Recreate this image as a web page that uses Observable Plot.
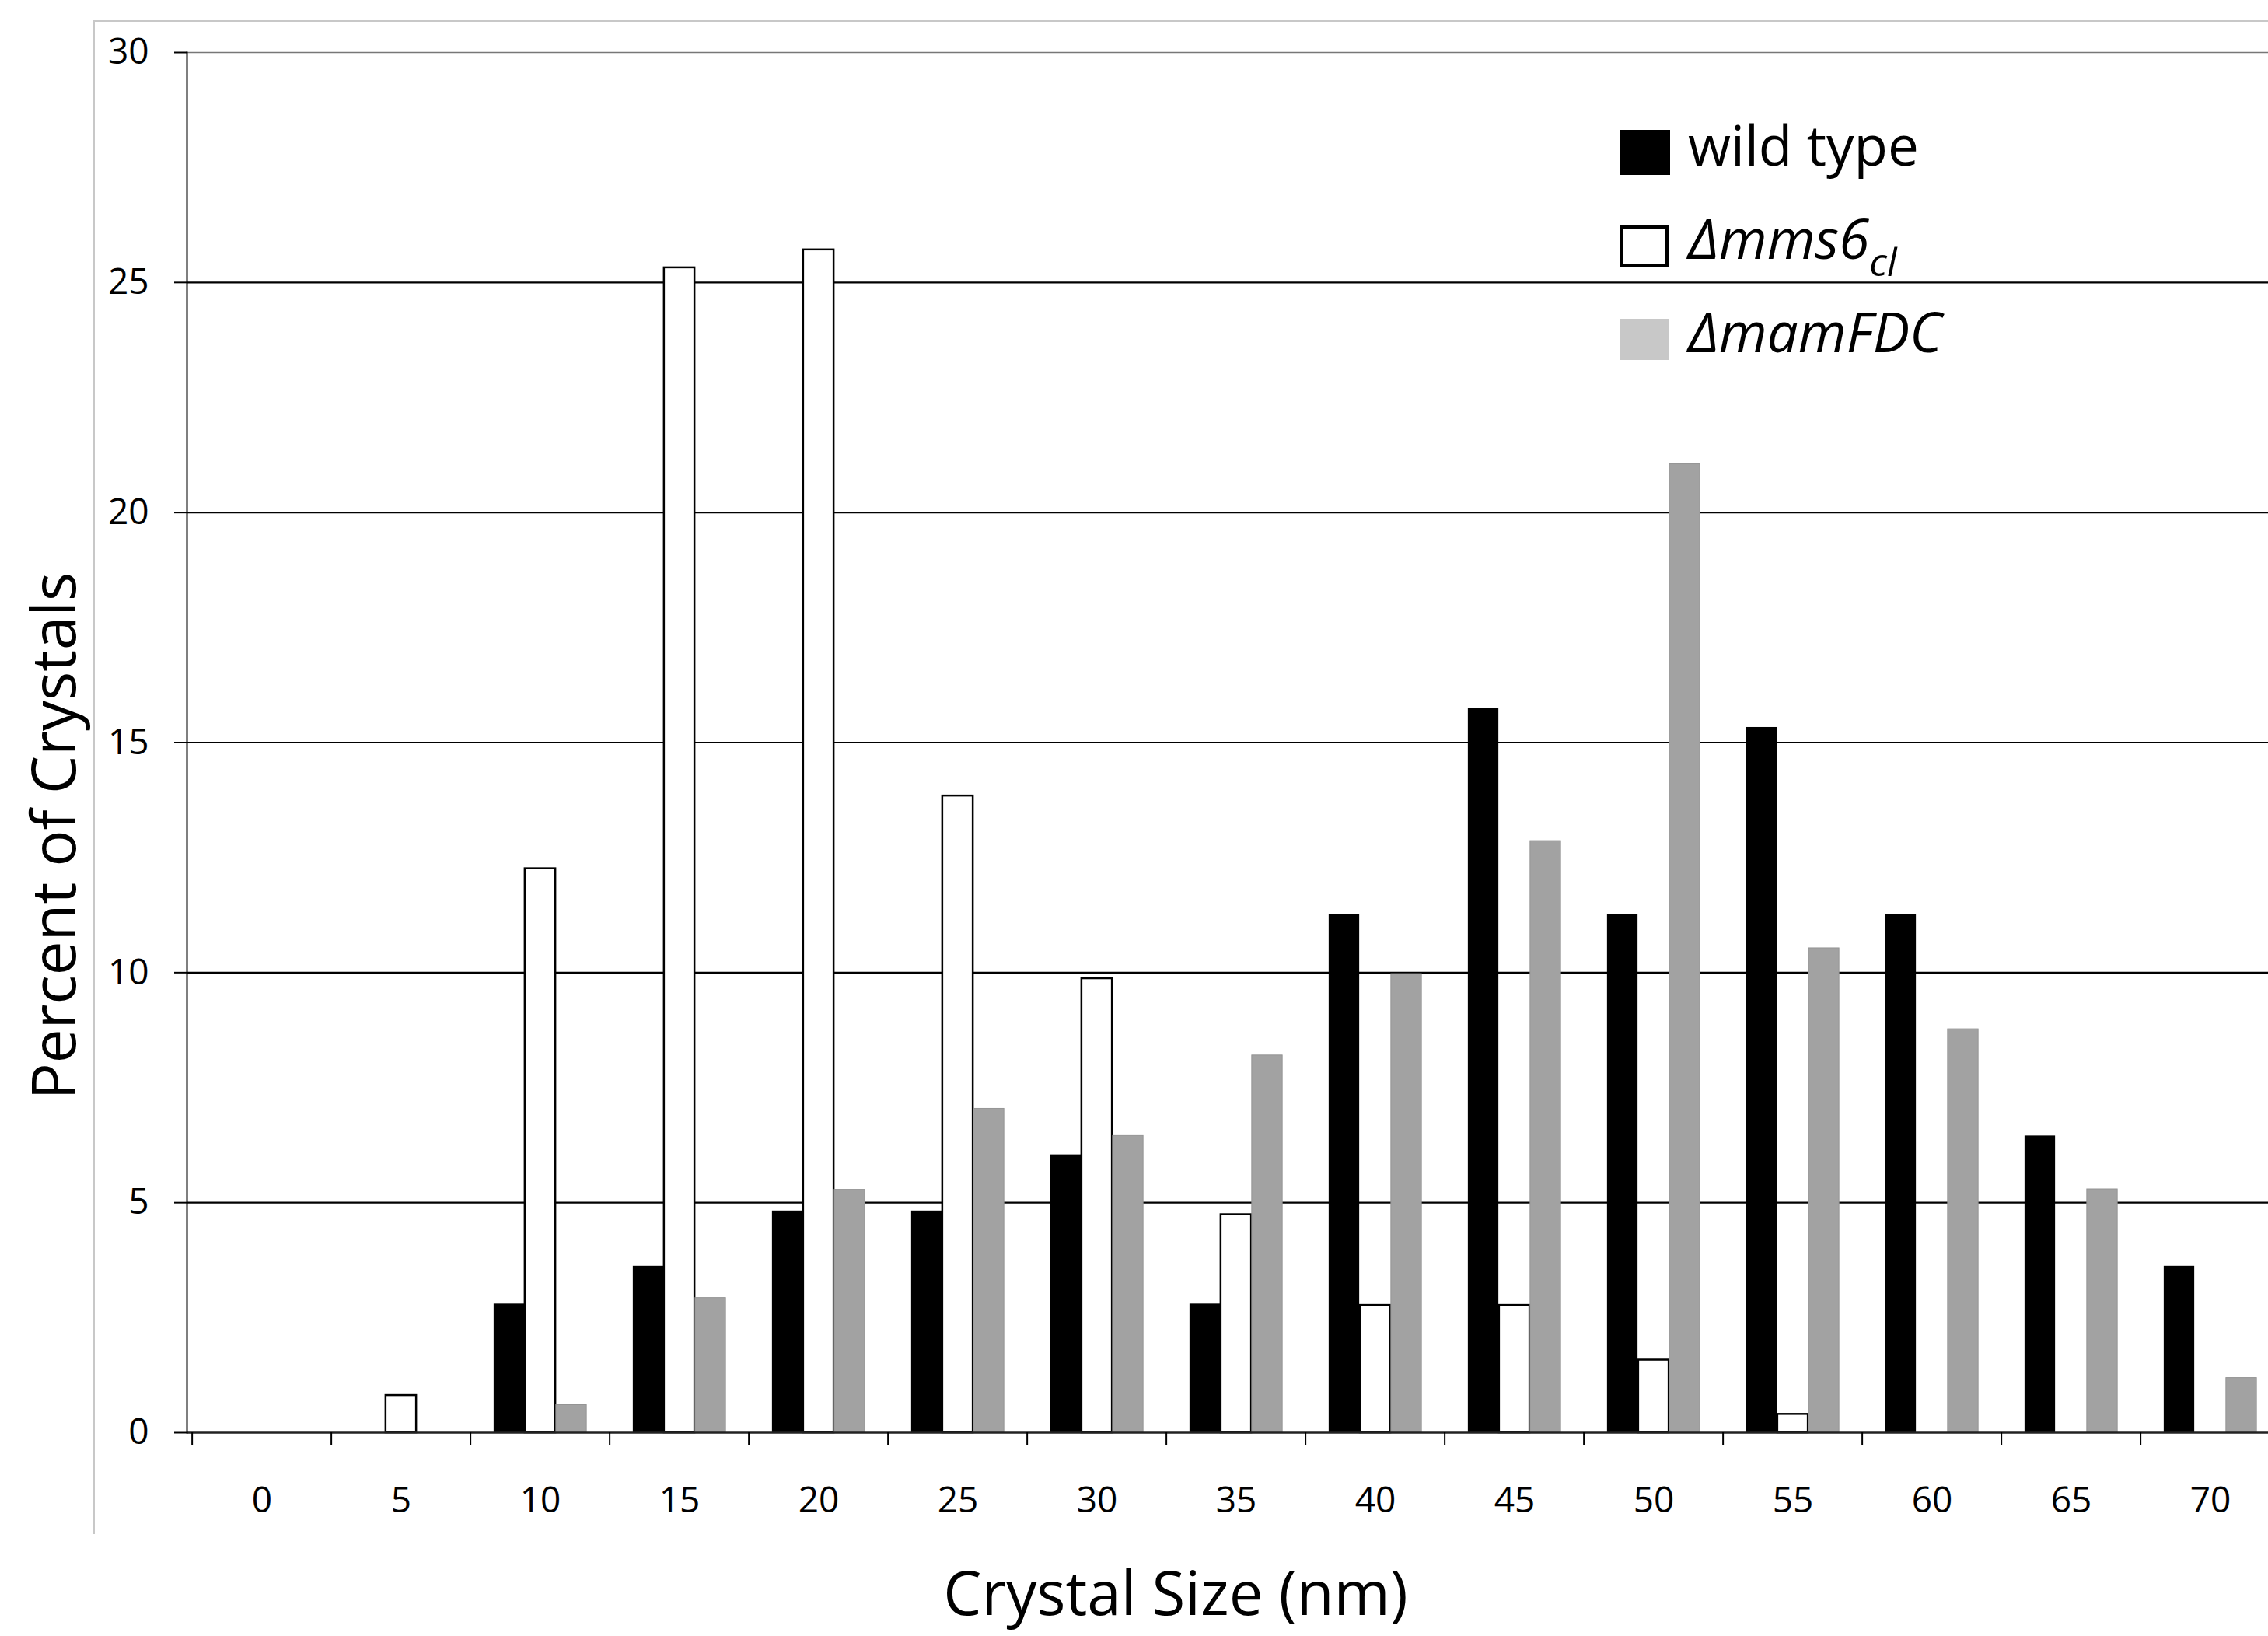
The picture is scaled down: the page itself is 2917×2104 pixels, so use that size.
<!DOCTYPE html>
<html>
<head>
<meta charset="utf-8">
<script src="https://cdn.jsdelivr.net/npm/d3@7"></script>
<script src="https://cdn.jsdelivr.net/npm/@observablehq/plot@0.6"></script>
<style>
  html, body { margin: 0; padding: 0; background: #fff; overflow: hidden; }
  #wrap { position: relative; width: 2917px; height: 2104px; }
  #box { position: absolute; left: 120px; top: 26px; width: 2820px; height: 1947px;
         border-left: 2.5px solid #c8c8c8; border-top: 2.5px solid #c8c8c8; box-sizing: border-box; }
  #wrap svg { position: absolute; left: 0; top: 0; }
</style>
</head>
<body>
<div id="wrap"><div id="box"></div></div>
<script>
// ---- data ----
const sizes = ["0","5","10","15","20","25","30","35","40","45","50","55","60","65","70"];
const wildType = [0, 0, 2.80, 3.62, 4.82, 4.82, 6.04, 2.80, 11.26, 15.74, 11.26, 15.33, 11.26, 6.45, 3.62];
const mms6     = [0, 0.81, 12.26, 25.32, 25.71, 13.84, 9.87, 4.74, 2.77, 2.77, 1.58, 0.40, 0, 0, 0];
const mamFDC   = [0, 0, 0.60, 2.93, 5.28, 7.04, 6.45, 8.20, 9.97, 12.86, 21.05, 10.53, 8.77, 5.29, 1.19];
const yTicks = [0, 5, 10, 15, 20, 25, 30];
const legendNames = ["wild type", "\u0394mms6", "\u0394mamFDC"];
const legendSub = ["", "cl", ""];
const xTitle = "Crystal Size (nm)";
const yTitle = "Percent of Crystals";

const toRows = arr => sizes.map((s, i) => ({size: s, value: arr[i]})).filter(d => d.value > 0);

// ---- layout ----
const W = 2917, H = 2104;
const xRange = [241, 2937];
const bw = (xRange[1] - xRange[0]) / sizes.length;   // category width
const barW = 40;                                       // single bar width
const inset = (bw - barW) / 2;
const font = "'Open Sans', sans-serif";

const chart = Plot.plot({
  width: W, height: H,
  marginLeft: 240, marginRight: 0, marginTop: 67, marginBottom: 262,
  style: {fontFamily: font, background: "transparent", overflow: "hidden", color: "black"},
  x: {type: "band", domain: sizes, range: xRange, padding: 0},
  y: {domain: [0, 30]},
  marks: [
    Plot.ruleY(yTicks.filter(t => t > 0 && t < 30), {stroke: "black", strokeWidth: 2.2}),
    Plot.ruleY([30], {stroke: "#777", strokeWidth: 1.6}),
    Plot.barY(toRows(wildType), {x: "size", y: "value", fill: "black", insetLeft: inset, insetRight: inset, dx: -barW}),
    Plot.barY(toRows(mms6), {x: "size", y: "value", fill: "white", stroke: "black", strokeWidth: 2.5, insetLeft: inset, insetRight: inset}),
    Plot.barY(toRows(mamFDC), {x: "size", y: "value", fill: "#a2a2a2", stroke: "#949494", strokeWidth: 1, insetLeft: inset, insetRight: inset, dx: barW}),
    Plot.ruleY([0], {stroke: "#222", strokeWidth: 2.6}),
    Plot.frame({anchor: "left", stroke: "black", strokeWidth: 2}),
    Plot.axisY({ticks: yTicks, tickSize: 16, tickPadding: 33, fontSize: 46, label: null, strokeWidth: 2}),
    Plot.axisX({tickSize: 16, dx: -bw / 2, tickFormat: () => "", label: null, strokeWidth: 2}),
    Plot.axisX({tickSize: 0, tickPadding: 70, fontSize: 46, label: null}),
    Plot.text([xTitle], {text: d => d, frameAnchor: "bottom", textAnchor: "middle", dx: -67, dy: 210, fontSize: 78, lineAnchor: "middle", fill: "black"}),
    Plot.text([yTitle], {text: d => d, frameAnchor: "left", textAnchor: "middle", rotate: -90, dx: -168, dy: 120, fontSize: 78, lineAnchor: "middle", fill: "black"})
  ]
});

document.getElementById("wrap").appendChild(chart);

// ---- legend (inside the plot area, as in the reference) ----
const svg = d3.select(chart);
const lg = svg.append("g").attr("font-family", font).attr("font-size", 71)
  .attr("fill", "black").attr("text-anchor", "start");
const swatches = [
  {fill: "black", stroke: "none", sw: 0, x: 2083, y: 167, w: 65, h: 58},
  {fill: "white", stroke: "black", sw: 4, x: 2085, y: 292, w: 59, h: 49},
  {fill: "#c8c8c8", stroke: "none", sw: 0, x: 2083, y: 410, w: 63, h: 53}
];
const baselines = [213, 333, 453];
legendNames.forEach((name, i) => {
  const s = swatches[i];
  lg.append("rect").attr("x", s.x).attr("y", s.y).attr("width", s.w).attr("height", s.h)
    .attr("fill", s.fill).attr("stroke", s.stroke).attr("stroke-width", s.sw);
  const t = lg.append("text").attr("x", 2171).attr("y", baselines[i]).attr("text-anchor", "start");
  if (i === 0) {
    t.text(name);
  } else {
    t.attr("font-style", "italic");
    t.append("tspan").text(name);
    if (legendSub[i]) t.append("tspan").attr("dy", 22).attr("font-size", 50).text(legendSub[i]);
  }
});
</script>
</body>
</html>
